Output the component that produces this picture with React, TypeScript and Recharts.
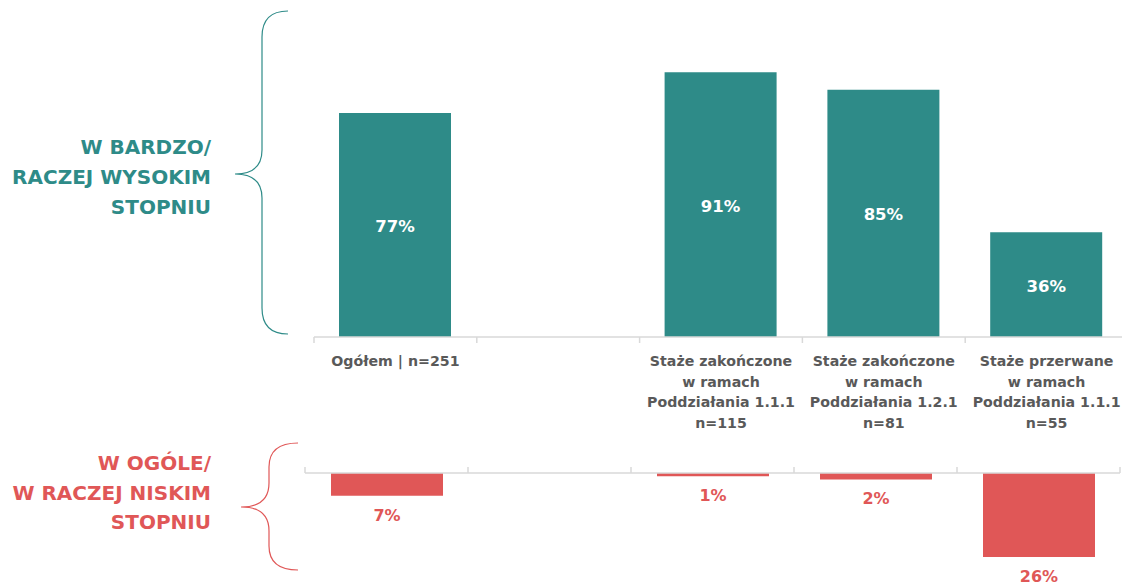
import React from "react";
import { BarChart, Bar, XAxis, YAxis, LabelList } from "recharts";

const categories: string[] = [
  "Ogółem | n=251",
  "",
  "Staże zakończone\nw ramach\nPoddziałania 1.1.1\nn=115",
  "Staże zakończone\nw ramach\nPoddziałania 1.2.1\nn=81",
  "Staże przerwane\nw ramach\nPoddziałania 1.1.1\nn=55",
];
const highValues: (number | null)[] = [77, null, 91, 85, 36];
const lowValues: (number | null)[] = [7, null, 1, 2, 26];

const highLabel = ["W BARDZO/", "RACZEJ WYSOKIM", "STOPNIU"];
const lowLabel = ["W OGÓLE/", "W RACZEJ NISKIM", "STOPNIU"];

const TEAL = "#2e8b88";
const RED = "#e05757";
const GRID = "#d9d9d9";
const TEXT = "#595959";
const FONT = "'DejaVu Sans', sans-serif";

const topData = categories.map((c, i) => ({ cat: c, key: "c" + i, v: highValues[i] }));
const lowData = categories.map((c, i) => ({ cat: c, key: "c" + i, v: lowValues[i] }));

const TOP_W = 814;
const LOW_W = 815;
const N = categories.length;

const TopTick = (props: any) => {
  const { x, y, index } = props;
  const bw = TOP_W / N;
  const lines = String(categories[index] ?? "").split("\n");
  return (
    <g>
      <line x1={x - bw / 2} x2={x - bw / 2} y1={y} y2={y + 6} stroke={GRID} strokeWidth={1.5} />
      {index === N - 1 && (
        <line x1={x + bw / 2} x2={x + bw / 2} y1={y} y2={y + 6} stroke={GRID} strokeWidth={1.5} />
      )}
      <text
        x={x}
        y={y + 29}
        textAnchor="middle"
        fill={TEXT}
        fontFamily={FONT}
        fontWeight="bold"
        fontSize={14.2}
      >
        {lines.map((l, i) => (
          <tspan key={i} x={x} dy={i === 0 ? 0 : 20.7}>
            {l}
          </tspan>
        ))}
      </text>
    </g>
  );
};

const LowTick = (props: any) => {
  const { x, y, index } = props;
  const bw = LOW_W / N;
  return (
    <g>
      <line x1={x - bw / 2} x2={x - bw / 2} y1={y} y2={y - 6} stroke={GRID} strokeWidth={1.5} />
      {index === N - 1 && (
        <line x1={x + bw / 2} x2={x + bw / 2} y1={y} y2={y - 6} stroke={GRID} strokeWidth={1.5} />
      )}
    </g>
  );
};

const LowLabel = (props: any) => {
  const { x, y, width, height, value } = props;
  if (value == null) return null;
  const bottom = Math.max(y, y + height);
  return (
    <text
      x={x + width / 2}
      y={bottom + 25}
      textAnchor="middle"
      fill={RED}
      fontFamily={FONT}
      fontWeight="bold"
      fontSize={16}
    >
      {value + "%"}
    </text>
  );
};

const TopLabel = (props: any) => {
  const { x, y, width, height, value } = props;
  if (value == null) return null;
  return (
    <text
      x={x + width / 2}
      y={y + height / 2 + 7}
      textAnchor="middle"
      fill="#ffffff"
      fontFamily={FONT}
      fontWeight="bold"
      fontSize={16.5}
    >
      {value + "%"}
    </text>
  );
};

export default function App() {
  return (
    <div
      style={{
        position: "absolute",
        left: 0,
        top: 0,
        width: 1122,
        height: 586,
        overflow: "hidden",
        background: "#ffffff",
      }}
    >
      <div style={{ position: "absolute", left: 0, top: 0 }}>
        <BarChart
          width={314 + TOP_W + 12}
          height={437}
          data={topData}
          margin={{ top: 46, right: 12, left: 314, bottom: 0 }}
        >
          <XAxis
            dataKey="key"
            height={100}
            interval={0}
            tickSize={0}
            tickMargin={0}
            tickLine={false}
            axisLine={{ stroke: GRID, strokeWidth: 1.5 }}
            tick={<TopTick />}
          />
          <YAxis hide domain={[0, 100]} />
          <Bar dataKey="v" fill={TEAL} barSize={112} isAnimationActive={false}>
            <LabelList dataKey="v" content={<TopLabel />} />
          </Bar>
        </BarChart>
      </div>
      <div style={{ position: "absolute", left: 0, top: 440 }}>
        <BarChart
          width={305 + LOW_W + 20}
          height={146}
          data={lowData}
          margin={{ top: 3, right: 20, left: 305, bottom: 16 }}
        >
          <XAxis
            dataKey="key"
            orientation="top"
            height={30}
            interval={0}
            tickSize={0}
            tickMargin={0}
            tickLine={false}
            axisLine={{ stroke: GRID, strokeWidth: 1.5 }}
            tick={<LowTick />}
          />
          <YAxis hide reversed domain={[0, 30]} />
          <Bar dataKey="v" fill={RED} barSize={112} isAnimationActive={false}>
            <LabelList dataKey="v" content={<LowLabel />} />
          </Bar>
        </BarChart>
      </div>
      <svg
        width={320}
        height={586}
        style={{ position: "absolute", left: 0, top: 0, pointerEvents: "none" }}
      >
        <path
          d="M288,11 Q262,11 262,37 L262,150 Q262,174 235,174 Q262,174 262,198 L262,308 Q262,334 288,334"
          fill="none"
          stroke={TEAL}
          strokeWidth={1.2}
        />
        <path
          d="M298,443 Q269,443 269,467 L269,483 Q269,507 241,507 Q269,507 269,531 L269,546 Q269,570 298,570"
          fill="none"
          stroke={RED}
          strokeWidth={1.2}
        />
        <text textAnchor="end" fill={TEAL} fontFamily={FONT} fontWeight="bold" fontSize={20}>
          {highLabel.map((l, i) => (
            <tspan key={i} x={211} y={154 + i * 30}>
              {l}
            </tspan>
          ))}
        </text>
        <text textAnchor="end" fill={RED} fontFamily={FONT} fontWeight="bold" fontSize={20}>
          {lowLabel.map((l, i) => (
            <tspan key={i} x={211} y={470 + i * 29.5}>
              {l}
            </tspan>
          ))}
        </text>
      </svg>
    </div>
  );
}
